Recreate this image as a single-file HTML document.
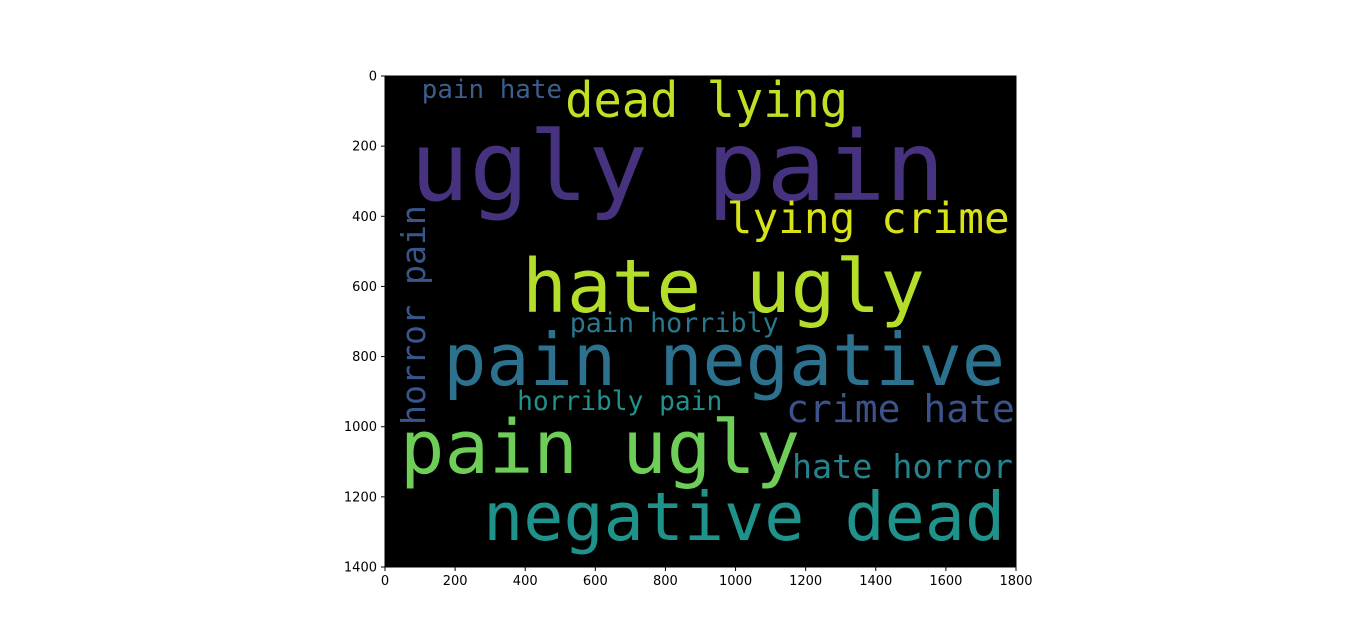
<!DOCTYPE html>
<html><head><meta charset="utf-8"><style>
body{margin:0;background:#fff;width:1366px;height:637px;overflow:hidden}
svg{display:block}
text{font-family:"DejaVu Sans Mono","Liberation Mono",monospace}
.tick{font-family:"DejaVu Sans","Liberation Sans",sans-serif;font-size:13px;fill:#000}
</style></head><body>
<svg id="chart" width="1366" height="637" viewBox="0 0 1366 637">
<rect x="385" y="76" width="631" height="491" fill="#000"/>
<g id="words"></g>
<rect x="385" y="76" width="631" height="491" fill="none" stroke="#000" stroke-width="1"/>
<g id="ticks"></g>
</svg>
<script>
const words=["pain hate","dead lying","ugly pain","lying crime","hate ugly","horror pain","pain horribly","pain negative","horribly pain","crime hate","pain ugly","hate horror","negative dead"];
const wx=[105,514,71,975,391,114,527,166,377,1144,43,1161,280];
const wy=[63,117,354,448,673,995,730,881,952,987,1132,1146,1323];
const wlen=[400,807,1526,807,1149,627,596,1603,585,653,1141,630,1489];
const wsize=[74,140,275,123,211,94,77,205,77,108,211,94,190];
const wvert=[0,0,0,0,0,1,0,0,0,0,0,0,0];
const wcolor=["#3b5e8c","#c2df23","#46327e","#d8e219","#b5de2b","#39568c","#2a788e","#2c728e","#21918c","#3b528b","#6ece58","#25838e","#20928c"];
const xticks=[0,200,400,600,800,1000,1200,1400,1600,1800];
const yticks=[0,200,400,600,800,1000,1200,1400];
const X0=385,Y0=76,S=631/1800,SY=491/1400;
const ns="http://www.w3.org/2000/svg";
const g=document.getElementById('words');
g.setAttribute('transform',`translate(${X0},${Y0}) scale(${S},${SY})`);
words.forEach((w,i)=>{
 const t=document.createElementNS(ns,'text');
 
 
 t.setAttribute('x',wx[i]);t.setAttribute('y',wy[i]);
 t.setAttribute('font-size',wsize[i]);t.setAttribute('fill',wcolor[i]);
 t.setAttribute('textLength',wlen[i]);t.setAttribute('lengthAdjust','spacingAndGlyphs');
 if(wvert[i])t.setAttribute('transform',`rotate(-90 ${wx[i]} ${wy[i]})`);
 t.textContent=w;g.appendChild(t);
});
const tg=document.getElementById('ticks');
xticks.forEach(v=>{
 const x=X0+v*S;
 const l=document.createElementNS(ns,'line');
 
 
 l.setAttribute('x1',x);l.setAttribute('x2',x);l.setAttribute('y1',567);l.setAttribute('y2',571);l.setAttribute('stroke','#000');
 tg.appendChild(l);
 const t=document.createElementNS(ns,'text');
 
 
 t.setAttribute('class','tick');t.setAttribute('x',x);t.setAttribute('y',585);t.setAttribute('text-anchor','middle');
 t.textContent=v;tg.appendChild(t);
});
yticks.forEach(v=>{
 const y=Y0+v*SY;
 const l=document.createElementNS(ns,'line');
 
 
 l.setAttribute('x1',381);l.setAttribute('x2',385);l.setAttribute('y1',y);l.setAttribute('y2',y);l.setAttribute('stroke','#000');
 tg.appendChild(l);
 const t=document.createElementNS(ns,'text');
 
 
 t.setAttribute('class','tick');t.setAttribute('x',377);t.setAttribute('y',y+4.5);t.setAttribute('text-anchor','end');
 t.textContent=v;tg.appendChild(t);
});
</script>
</body></html>
